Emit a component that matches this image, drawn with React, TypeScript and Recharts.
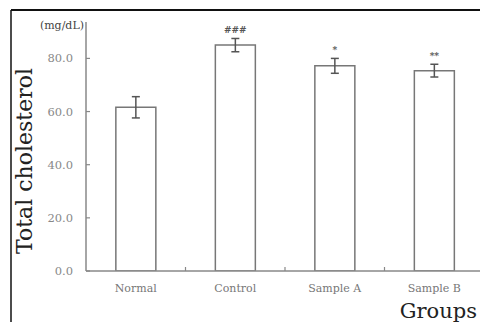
import React from 'react';
import { BarChart, Bar, XAxis, YAxis, ErrorBar, LabelList } from 'recharts';

const groups = ['Normal', 'Control', 'Sample A', 'Sample B'];
const cholesterol = [61.6, 85.0, 77.2, 75.4];
const sd = [4.0, 2.5, 2.8, 2.4];
const marks = ['', '###', '*', '**'];
const yTicks = [0, 20, 40, 60, 80];

const Y_MAX = 93.7;
const TOP = 22;
const AXIS_H = 51;
const CHART_W = 484;
const CHART_H = 322;
const PLOT_H = CHART_H - TOP - AXIS_H;

const data = groups.map((g, i) => ({ group: g, value: cholesterol[i], err: sd[i], mark: marks[i] }));

const serif = '"DejaVu Serif", serif';

const GroupTick = (props: any) => {
  const { x, y, payload, index } = props;
  const half = payload && payload.offset ? payload.offset : 49.75;
  return (
    <g>
      {index > 0 && (
        <line x1={x - half} x2={x - half} y1={y} y2={y - 4} stroke="#888" strokeWidth={1.2} />
      )}
      <text x={x} y={y + 21} textAnchor="middle" fontFamily={serif} fontSize={11} fill="#777">
        {payload.value}
      </text>
    </g>
  );
};

const MarkLabel = (props: any) => {
  const { x, y, width, index } = props;
  const m = marks[index];
  if (!m) return null;
  const errPx = (sd[index] / Y_MAX) * PLOT_H;
  return (
    <text
      x={x + width / 2}
      y={y - errPx - 5}
      textAnchor="middle"
      fontFamily={serif}
      fontSize={9}
      fontWeight="bold"
      fill="#555"
    >
      {m}
    </text>
  );
};

export default function App() {
  return (
    <div style={{ position: 'absolute', left: 0, top: 0, width: 480, height: 322, overflow: 'hidden', background: '#fff' }}>
      <BarChart
        width={CHART_W}
        height={CHART_H}
        data={data}
        margin={{ top: TOP, right: 0, bottom: 0, left: 0 }}
        barCategoryGap="30%"
      >
        <XAxis
          dataKey="group"
          height={AXIS_H}
          tickLine={false}
          tickSize={0}
          tickMargin={0}
          tick={<GroupTick />}
          axisLine={{ stroke: '#888', strokeWidth: 1.5 }}
          interval={0}
        />
        <YAxis
          width={86}
          domain={[0, Y_MAX]}
          ticks={yTicks}
          tickSize={-4}
          tickMargin={17}
          tickFormatter={(v: number) => v.toFixed(1)}
          tick={{ fontFamily: serif, fontSize: 11.5, fill: '#888' }}
          tickLine={{ stroke: '#888', strokeWidth: 1.2 }}
          axisLine={{ stroke: '#888', strokeWidth: 1.5 }}
          allowDataOverflow
        />
        <Bar dataKey="value" fill="#fff" stroke="#777" strokeWidth={1.5} isAnimationActive={false}>
          <ErrorBar dataKey="err" width={4} stroke="#555" strokeWidth={1.5} />
          <LabelList dataKey="mark" content={<MarkLabel />} />
        </Bar>
      </BarChart>
      <svg
        width={480}
        height={322}
        style={{ position: 'absolute', left: 0, top: 0, pointerEvents: 'none' }}
      >
        <line x1={11} y1={10} x2={480} y2={10} stroke="#111" strokeWidth={2} />
        <line x1={11} y1={10} x2={11} y2={322} stroke="#111" strokeWidth={1.5} />
        <text x={84} y={29} textAnchor="end" fontFamily={serif} fontSize={11} fill="#444">
          (mg/dL)
        </text>
        <text
          x={32}
          y={161}
          transform="rotate(-90 32 161)"
          textAnchor="middle"
          fontFamily={serif}
          fontSize={22}
          fill="#222"
        >
          Total cholesterol
        </text>
        <text x={477} y={318} textAnchor="end" fontFamily={serif} fontSize={21} fill="#222">
          Groups
        </text>
      </svg>
    </div>
  );
}
